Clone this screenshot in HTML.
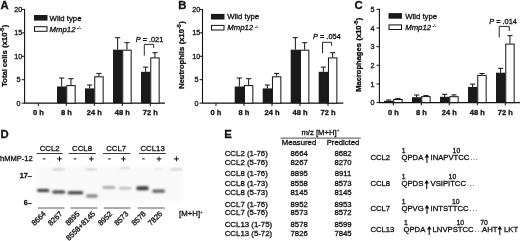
<!DOCTYPE html><html><head><meta charset="utf-8"><title>Figure</title><style>html,body{margin:0;padding:0;background:#fff}svg{display:block}text{font-family:"Liberation Sans", Arial, sans-serif;fill:#111}</style></head><body>
<svg width="520" height="241" viewBox="0 0 520 241">
<defs><filter id="b1" x="-20%" y="-100%" width="140%" height="300%"><feGaussianBlur stdDeviation="1.0 0.8"/></filter><filter id="b2" x="-10%" y="-10%" width="120%" height="120%"><feGaussianBlur stdDeviation="2"/></filter></defs>
<rect width="520" height="241" fill="#fff"/>
<path d="M24.6 8.90V103.15H165" fill="none" stroke="#111" stroke-width="1.1"/>
<path d="M21.70 103.15H24.6" stroke="#111" stroke-width="1"/>
<text x="20.60" y="105.75" text-anchor="end" font-size="7.2" stroke="#111" stroke-width="0.3">0</text>
<path d="M21.70 79.71H24.6" stroke="#111" stroke-width="1"/>
<text x="20.60" y="82.31" text-anchor="end" font-size="7.2" stroke="#111" stroke-width="0.3">5</text>
<path d="M21.70 56.28H24.6" stroke="#111" stroke-width="1"/>
<text x="22.30" y="58.88" text-anchor="end" font-size="7.2" stroke="#111" stroke-width="0.3">10</text>
<path d="M21.70 32.84H24.6" stroke="#111" stroke-width="1"/>
<text x="22.30" y="35.44" text-anchor="end" font-size="7.2" stroke="#111" stroke-width="0.3">15</text>
<path d="M21.70 9.40H24.6" stroke="#111" stroke-width="1"/>
<text x="22.30" y="12.00" text-anchor="end" font-size="7.2" stroke="#111" stroke-width="0.3">20</text>
<path d="M38.30 103.15v2.8" stroke="#111" stroke-width="1"/>
<text x="38.30" y="115.4" text-anchor="middle" font-size="7.5" font-weight="bold" stroke="#111" stroke-width="0.3">0 h</text>
<path d="M66.30 103.15v2.8" stroke="#111" stroke-width="1"/>
<text x="66.30" y="115.4" text-anchor="middle" font-size="7.5" font-weight="bold" stroke="#111" stroke-width="0.3">8 h</text>
<path d="M61.65 86.50V78.00M59.05 78.00h5.2" stroke="#111" stroke-width="1" fill="none"/>
<path d="M70.95 85.10V78.70M68.35 78.70h5.2" stroke="#111" stroke-width="1" fill="none"/>
<rect x="57.00" y="86.50" width="9.3" height="16.65" fill="#1a1a1a"/>
<rect x="66.75" y="85.60" width="8.4" height="17.55" fill="#fff" stroke="#111" stroke-width="1"/>
<path d="M94.30 103.15v2.8" stroke="#111" stroke-width="1"/>
<text x="94.30" y="115.4" text-anchor="middle" font-size="7.5" font-weight="bold" stroke="#111" stroke-width="0.3">24 h</text>
<path d="M89.65 88.40V85.00M87.05 85.00h5.2" stroke="#111" stroke-width="1" fill="none"/>
<path d="M98.95 76.30V73.40M96.35 73.40h5.2" stroke="#111" stroke-width="1" fill="none"/>
<rect x="85.00" y="88.40" width="9.3" height="14.75" fill="#1a1a1a"/>
<rect x="94.75" y="76.80" width="8.4" height="26.35" fill="#fff" stroke="#111" stroke-width="1"/>
<path d="M122.30 103.15v2.8" stroke="#111" stroke-width="1"/>
<text x="122.30" y="115.4" text-anchor="middle" font-size="7.5" font-weight="bold" stroke="#111" stroke-width="0.3">48 h</text>
<path d="M117.65 49.70V37.70M115.05 37.70h5.2" stroke="#111" stroke-width="1" fill="none"/>
<path d="M126.95 49.70V42.70M124.35 42.70h5.2" stroke="#111" stroke-width="1" fill="none"/>
<rect x="113.00" y="49.70" width="9.3" height="53.45" fill="#1a1a1a"/>
<rect x="122.75" y="50.20" width="8.4" height="52.95" fill="#fff" stroke="#111" stroke-width="1"/>
<path d="M150.30 103.15v2.8" stroke="#111" stroke-width="1"/>
<text x="150.30" y="115.4" text-anchor="middle" font-size="7.5" font-weight="bold" stroke="#111" stroke-width="0.3">72 h</text>
<path d="M145.65 71.80V67.10M143.05 67.10h5.2" stroke="#111" stroke-width="1" fill="none"/>
<path d="M154.95 57.40V52.70M152.35 52.70h5.2" stroke="#111" stroke-width="1" fill="none"/>
<rect x="141.00" y="71.80" width="9.3" height="31.35" fill="#1a1a1a"/>
<rect x="150.75" y="57.90" width="8.4" height="45.25" fill="#fff" stroke="#111" stroke-width="1"/>
<text transform="translate(7 86.7) rotate(-90)" font-size="7.55" font-weight="bold" stroke="#111" stroke-width="0.3">Total cells <tspan dy="-0.5" dx="0.5">(x10</tspan><tspan font-size="5.4" dy="-2.8" dx="0.2">-5</tspan><tspan dy="2.8" dx="0.3">)</tspan></text>
<text x="0.6" y="8.6" font-size="11.3" font-weight="bold" stroke="#111" stroke-width="0.3">A</text>
<rect x="34" y="15" width="13.5" height="5.6" fill="#1a1a1a"/>
<rect x="34.5" y="26.7" width="12.5" height="4.6" fill="#fff" stroke="#111" stroke-width="1"/>
<text x="49.6" y="20.5" font-size="7.75" stroke="#111" stroke-width="0.3">Wild type</text>
<text x="49.6" y="31.7" font-size="7.75" font-style="italic" stroke="#111" stroke-width="0.3">Mmp12<tspan font-size="4.2" dx="1.4" dy="-2.8" stroke-width="0.1">-/-</tspan></text>
<path d="M144.3 55.5V44.4H153.7V48" fill="none" stroke="#111" stroke-width="0.9"/>
<text x="135.7" y="41.6" font-size="7.35" stroke="#111" stroke-width="0.3"><tspan font-style="italic">P</tspan> = .021</text>
<path d="M202.5 8.90V103.15H343.3" fill="none" stroke="#111" stroke-width="1.1"/>
<path d="M199.60 103.15H202.5" stroke="#111" stroke-width="1"/>
<text x="198.50" y="105.75" text-anchor="end" font-size="7.2" stroke="#111" stroke-width="0.3">0</text>
<path d="M199.60 79.71H202.5" stroke="#111" stroke-width="1"/>
<text x="198.50" y="82.31" text-anchor="end" font-size="7.2" stroke="#111" stroke-width="0.3">5</text>
<path d="M199.60 56.28H202.5" stroke="#111" stroke-width="1"/>
<text x="200.20" y="58.88" text-anchor="end" font-size="7.2" stroke="#111" stroke-width="0.3">10</text>
<path d="M199.60 32.84H202.5" stroke="#111" stroke-width="1"/>
<text x="200.20" y="35.44" text-anchor="end" font-size="7.2" stroke="#111" stroke-width="0.3">15</text>
<path d="M199.60 9.40H202.5" stroke="#111" stroke-width="1"/>
<text x="200.20" y="12.00" text-anchor="end" font-size="7.2" stroke="#111" stroke-width="0.3">20</text>
<path d="M216.00 103.15v2.8" stroke="#111" stroke-width="1"/>
<text x="216.00" y="115.4" text-anchor="middle" font-size="7.5" font-weight="bold" stroke="#111" stroke-width="0.3">0 h</text>
<path d="M244.00 103.15v2.8" stroke="#111" stroke-width="1"/>
<text x="244.00" y="115.4" text-anchor="middle" font-size="7.5" font-weight="bold" stroke="#111" stroke-width="0.3">8 h</text>
<path d="M239.35 86.50V78.00M236.75 78.00h5.2" stroke="#111" stroke-width="1" fill="none"/>
<path d="M248.65 85.10V78.70M246.05 78.70h5.2" stroke="#111" stroke-width="1" fill="none"/>
<rect x="234.70" y="86.50" width="9.3" height="16.65" fill="#1a1a1a"/>
<rect x="244.45" y="85.60" width="8.4" height="17.55" fill="#fff" stroke="#111" stroke-width="1"/>
<path d="M272.00 103.15v2.8" stroke="#111" stroke-width="1"/>
<text x="272.00" y="115.4" text-anchor="middle" font-size="7.5" font-weight="bold" stroke="#111" stroke-width="0.3">24 h</text>
<path d="M267.35 88.40V85.00M264.75 85.00h5.2" stroke="#111" stroke-width="1" fill="none"/>
<path d="M276.65 76.30V73.40M274.05 73.40h5.2" stroke="#111" stroke-width="1" fill="none"/>
<rect x="262.70" y="88.40" width="9.3" height="14.75" fill="#1a1a1a"/>
<rect x="272.45" y="76.80" width="8.4" height="26.35" fill="#fff" stroke="#111" stroke-width="1"/>
<path d="M300.00 103.15v2.8" stroke="#111" stroke-width="1"/>
<text x="300.00" y="115.4" text-anchor="middle" font-size="7.5" font-weight="bold" stroke="#111" stroke-width="0.3">48 h</text>
<path d="M295.35 49.70V37.70M292.75 37.70h5.2" stroke="#111" stroke-width="1" fill="none"/>
<path d="M304.65 49.70V42.70M302.05 42.70h5.2" stroke="#111" stroke-width="1" fill="none"/>
<rect x="290.70" y="49.70" width="9.3" height="53.45" fill="#1a1a1a"/>
<rect x="300.45" y="50.20" width="8.4" height="52.95" fill="#fff" stroke="#111" stroke-width="1"/>
<path d="M328.00 103.15v2.8" stroke="#111" stroke-width="1"/>
<text x="328.00" y="115.4" text-anchor="middle" font-size="7.5" font-weight="bold" stroke="#111" stroke-width="0.3">72 h</text>
<path d="M323.35 71.80V67.10M320.75 67.10h5.2" stroke="#111" stroke-width="1" fill="none"/>
<path d="M332.65 57.40V52.70M330.05 52.70h5.2" stroke="#111" stroke-width="1" fill="none"/>
<rect x="318.70" y="71.80" width="9.3" height="31.35" fill="#1a1a1a"/>
<rect x="328.45" y="57.90" width="8.4" height="45.25" fill="#fff" stroke="#111" stroke-width="1"/>
<text transform="translate(184.4 88.8) rotate(-90)" font-size="7.55" font-weight="bold" stroke="#111" stroke-width="0.3">Neutrophils <tspan dy="-0.5" dx="0.5">(x10</tspan><tspan font-size="5.4" dy="-2.8" dx="0.2">-5</tspan><tspan dy="2.8" dx="0.3">)</tspan></text>
<text x="178.2" y="8.6" font-size="11.3" font-weight="bold" stroke="#111" stroke-width="0.3">B</text>
<rect x="211" y="13.9" width="13.5" height="5.6" fill="#1a1a1a"/>
<rect x="211.5" y="25.4" width="12.5" height="4.6" fill="#fff" stroke="#111" stroke-width="1"/>
<text x="227.3" y="19.4" font-size="7.75" stroke="#111" stroke-width="0.3">Wild type</text>
<text x="227.3" y="30.4" font-size="7.75" font-style="italic" stroke="#111" stroke-width="0.3">Mmp12<tspan font-size="4.2" dx="1.4" dy="-2.8" stroke-width="0.1">-/-</tspan></text>
<path d="M322.5 53.2V42.3H331.5V45.8" fill="none" stroke="#111" stroke-width="0.9"/>
<text x="313.1" y="39.3" font-size="7.35" stroke="#111" stroke-width="0.3"><tspan font-style="italic">P</tspan> = .054</text>
<path d="M379.4 8.85V102.6H520" fill="none" stroke="#111" stroke-width="1.1"/>
<path d="M376.50 102.60H379.4" stroke="#111" stroke-width="1"/>
<text x="374.40" y="105.20" text-anchor="end" font-size="7.2" stroke="#111" stroke-width="0.3">0</text>
<path d="M376.50 83.95H379.4" stroke="#111" stroke-width="1"/>
<text x="374.40" y="86.55" text-anchor="end" font-size="7.2" stroke="#111" stroke-width="0.3">1</text>
<path d="M376.50 65.30H379.4" stroke="#111" stroke-width="1"/>
<text x="374.40" y="67.90" text-anchor="end" font-size="7.2" stroke="#111" stroke-width="0.3">2</text>
<path d="M376.50 46.65H379.4" stroke="#111" stroke-width="1"/>
<text x="374.40" y="49.25" text-anchor="end" font-size="7.2" stroke="#111" stroke-width="0.3">3</text>
<path d="M376.50 28.00H379.4" stroke="#111" stroke-width="1"/>
<text x="374.40" y="30.60" text-anchor="end" font-size="7.2" stroke="#111" stroke-width="0.3">4</text>
<path d="M376.50 9.35H379.4" stroke="#111" stroke-width="1"/>
<text x="374.40" y="11.95" text-anchor="end" font-size="7.2" stroke="#111" stroke-width="0.3">5</text>
<path d="M393.30 102.6v2.8" stroke="#111" stroke-width="1"/>
<text x="393.30" y="115.4" text-anchor="middle" font-size="7.5" font-weight="bold" stroke="#111" stroke-width="0.3">0 h</text>
<path d="M388.65 100.80V100.00M386.05 100.00h5.2" stroke="#111" stroke-width="1" fill="none"/>
<path d="M397.95 99.00V98.40M395.35 98.40h5.2" stroke="#111" stroke-width="1" fill="none"/>
<rect x="384.00" y="100.80" width="9.3" height="1.80" fill="#1a1a1a"/>
<rect x="393.75" y="99.50" width="8.4" height="3.10" fill="#fff" stroke="#111" stroke-width="1"/>
<path d="M421.30 102.6v2.8" stroke="#111" stroke-width="1"/>
<text x="421.30" y="115.4" text-anchor="middle" font-size="7.5" font-weight="bold" stroke="#111" stroke-width="0.3">8 h</text>
<path d="M416.65 97.20V95.00M414.05 95.00h5.2" stroke="#111" stroke-width="1" fill="none"/>
<path d="M425.95 96.10V95.60M423.35 95.60h5.2" stroke="#111" stroke-width="1" fill="none"/>
<rect x="412.00" y="97.20" width="9.3" height="5.40" fill="#1a1a1a"/>
<rect x="421.75" y="96.60" width="8.4" height="6.00" fill="#fff" stroke="#111" stroke-width="1"/>
<path d="M449.30 102.6v2.8" stroke="#111" stroke-width="1"/>
<text x="449.30" y="115.4" text-anchor="middle" font-size="7.5" font-weight="bold" stroke="#111" stroke-width="0.3">24 h</text>
<path d="M444.65 96.80V94.30M442.05 94.30h5.2" stroke="#111" stroke-width="1" fill="none"/>
<path d="M453.95 96.20V94.90M451.35 94.90h5.2" stroke="#111" stroke-width="1" fill="none"/>
<rect x="440.00" y="96.80" width="9.3" height="5.80" fill="#1a1a1a"/>
<rect x="449.75" y="96.70" width="8.4" height="5.90" fill="#fff" stroke="#111" stroke-width="1"/>
<path d="M477.30 102.6v2.8" stroke="#111" stroke-width="1"/>
<text x="477.30" y="115.4" text-anchor="middle" font-size="7.5" font-weight="bold" stroke="#111" stroke-width="0.3">48 h</text>
<path d="M472.65 87.00V84.10M470.05 84.10h5.2" stroke="#111" stroke-width="1" fill="none"/>
<path d="M481.95 74.90V73.50M479.35 73.50h5.2" stroke="#111" stroke-width="1" fill="none"/>
<rect x="468.00" y="87.00" width="9.3" height="15.60" fill="#1a1a1a"/>
<rect x="477.75" y="75.40" width="8.4" height="27.20" fill="#fff" stroke="#111" stroke-width="1"/>
<path d="M505.30 102.6v2.8" stroke="#111" stroke-width="1"/>
<text x="505.30" y="115.4" text-anchor="middle" font-size="7.5" font-weight="bold" stroke="#111" stroke-width="0.3">72 h</text>
<path d="M500.65 72.70V68.30M498.05 68.30h5.2" stroke="#111" stroke-width="1" fill="none"/>
<path d="M509.95 43.60V35.70M507.35 35.70h5.2" stroke="#111" stroke-width="1" fill="none"/>
<rect x="496.00" y="72.70" width="9.3" height="29.90" fill="#1a1a1a"/>
<rect x="505.75" y="44.10" width="8.4" height="58.50" fill="#fff" stroke="#111" stroke-width="1"/>
<text transform="translate(361.2 91.8) rotate(-90)" font-size="7.55" font-weight="bold" stroke="#111" stroke-width="0.3">Macrophages <tspan dy="-0.5" dx="0.5">(x10</tspan><tspan font-size="5.4" dy="-2.8" dx="0.2">-5</tspan><tspan dy="2.8" dx="0.3">)</tspan></text>
<text x="354.6" y="8.6" font-size="11.3" font-weight="bold" stroke="#111" stroke-width="0.3">C</text>
<rect x="388.5" y="13.1" width="13.5" height="5.6" fill="#1a1a1a"/>
<rect x="389.0" y="24.9" width="12.5" height="4.6" fill="#fff" stroke="#111" stroke-width="1"/>
<text x="405.2" y="18.6" font-size="7.75" stroke="#111" stroke-width="0.3">Wild type</text>
<text x="405.2" y="29.9" font-size="7.75" font-style="italic" stroke="#111" stroke-width="0.3">Mmp12<tspan font-size="4.2" dx="1.4" dy="-2.8" stroke-width="0.1">-/-</tspan></text>
<path d="M499.2 37.5V26.4H509.3V31" fill="none" stroke="#111" stroke-width="0.9"/>
<text x="489.3" y="23.7" font-size="7.35" stroke="#111" stroke-width="0.3"><tspan font-style="italic">P</tspan> = .014</text>
<text x="0.6" y="138.2" font-size="11.3" font-weight="bold" stroke="#111" stroke-width="0.3">D</text>
<rect x="37" y="166" width="145" height="36" fill="#f9f9f9" filter="url(#b2)"/>
<text x="49.7" y="150.7" text-anchor="middle" font-size="7.8" stroke="#111" stroke-width="0.3">CCL2</text>
<path d="M36.6 153.5H62.8" stroke="#222" stroke-width="0.9"/>
<text x="82" y="150.7" text-anchor="middle" font-size="7.8" stroke="#111" stroke-width="0.3">CCL8</text>
<path d="M68.7 153.5H95.8" stroke="#222" stroke-width="0.9"/>
<text x="116.2" y="150.7" text-anchor="middle" font-size="7.8" stroke="#111" stroke-width="0.3">CCL7</text>
<path d="M103 153.5H130.3" stroke="#222" stroke-width="0.9"/>
<text x="152.6" y="150.7" text-anchor="middle" font-size="7.8" stroke="#111" stroke-width="0.3">CCL13</text>
<path d="M138.9 153.5H165.8" stroke="#222" stroke-width="0.9"/>
<text x="0" y="161" font-size="7.55" stroke="#111" stroke-width="0.3">hMMP-12</text>
<path d="M42.900000000000006 158.9h2.6" stroke="#111" stroke-width="1"/>
<path d="M57.1 158.9h4.8M59.5 156.5v4.8" stroke="#111" stroke-width="1" fill="none"/>
<path d="M73.7 158.9h2.6" stroke="#111" stroke-width="1"/>
<path d="M88.89999999999999 158.9h4.8M91.3 156.5v4.8" stroke="#111" stroke-width="1" fill="none"/>
<path d="M108.10000000000001 158.9h2.6" stroke="#111" stroke-width="1"/>
<path d="M121.1 158.9h4.8M123.5 156.5v4.8" stroke="#111" stroke-width="1" fill="none"/>
<path d="M142.1 158.9h2.6" stroke="#111" stroke-width="1"/>
<path d="M156.6 158.9h4.8M159 156.5v4.8" stroke="#111" stroke-width="1" fill="none"/>
<path d="M174.0 158.9h4.8M176.4 156.5v4.8" stroke="#111" stroke-width="1" fill="none"/>
<text x="31.8" y="177.9" text-anchor="end" font-size="7.2" font-weight="bold" stroke="#111" stroke-width="0.3">17–</text>
<text x="31.8" y="204.5" text-anchor="end" font-size="7.2" font-weight="bold" stroke="#111" stroke-width="0.3">6–</text>
<rect x="37" y="188.9" width="12.299999999999997" height="3.0" rx="1.5" fill="#383838" filter="url(#b1)"/>
<rect x="52.2" y="190.4" width="13.0" height="3.0" rx="1.5" fill="#3a3a3a" filter="url(#b1)"/>
<rect x="67.7" y="191.2" width="15.5" height="3.0" rx="1.5" fill="#343434" filter="url(#b1)"/>
<rect x="86" y="194.6" width="11.799999999999997" height="3.0" rx="1.5" fill="#7a7a7a" filter="url(#b1)"/>
<rect x="102.6" y="186.4" width="12.600000000000009" height="2.2" rx="1.1" fill="#888888" filter="url(#b1)"/>
<rect x="119" y="187.2" width="12.300000000000011" height="2.0" rx="1.0" fill="#acacac" filter="url(#b1)"/>
<rect x="136.2" y="186.3" width="12.600000000000023" height="4.0" rx="2.0" fill="#3a3a3a" filter="url(#b1)"/>
<rect x="152.2" y="189.5" width="12.800000000000011" height="3.2" rx="1.6" fill="#5c5c5c" filter="url(#b1)"/>
<rect x="52.5" y="168.7" width="12.0" height="1.4" fill="#bcbcbc" filter="url(#b1)"/>
<rect x="86" y="168.7" width="10.5" height="1.4" fill="#c0c0c0" filter="url(#b1)"/>
<rect x="120" y="167.4" width="9.5" height="1.4" fill="#c8c8c8" filter="url(#b1)"/>
<rect x="154.5" y="168.5" width="8.5" height="1.4" fill="#e4e4e4" filter="url(#b1)"/>
<rect x="170.5" y="168.7" width="11.5" height="1.4" fill="#bcbcbc" filter="url(#b1)"/>
<path d="M38 208H64.5" stroke="#333" stroke-width="0.8"/>
<path d="M70.5 208H97.5" stroke="#333" stroke-width="0.8"/>
<path d="M103.7 208H130.5" stroke="#333" stroke-width="0.8"/>
<path d="M137.5 208H164.5" stroke="#333" stroke-width="0.8"/>
<text transform="translate(46.3 214.3) rotate(-45)" text-anchor="end" font-size="7.5" stroke="#111" stroke-width="0.3">8664</text>
<text transform="translate(62.9 214.3) rotate(-45)" text-anchor="end" font-size="7.5" stroke="#111" stroke-width="0.3">8267</text>
<text transform="translate(80.2 214.3) rotate(-45)" text-anchor="end" font-size="7.5" stroke="#111" stroke-width="0.3">8895</text>
<text transform="translate(95.8 214.3) rotate(-45)" text-anchor="end" font-size="7.5" stroke="#111" stroke-width="0.3">8558+8145</text>
<text transform="translate(112.8 214.3) rotate(-45)" text-anchor="end" font-size="7.5" stroke="#111" stroke-width="0.3">8952</text>
<text transform="translate(129 214.3) rotate(-45)" text-anchor="end" font-size="7.5" stroke="#111" stroke-width="0.3">8573</text>
<text transform="translate(146.3 214.3) rotate(-45)" text-anchor="end" font-size="7.5" stroke="#111" stroke-width="0.3">8578</text>
<text transform="translate(162.8 214.3) rotate(-45)" text-anchor="end" font-size="7.5" stroke="#111" stroke-width="0.3">7826</text>
<text x="179.1" y="216.3" font-size="7.8" stroke="#111" stroke-width="0.3">[M+H]<tspan font-size="4.5" dy="-2.8" stroke-width="0.1">+</tspan></text>
<text x="224.2" y="137.9" font-size="11.3" font-weight="bold" stroke="#111" stroke-width="0.3">E</text>
<text x="301.4" y="134.8" font-size="7.7" stroke="#111" stroke-width="0.3">m/z [M+H]<tspan font-size="4.5" dy="-2.8" stroke-width="0.1">+</tspan></text>
<path d="M280.5 138.1H360.9" stroke="#222" stroke-width="0.8"/>
<text x="299" y="145.1" text-anchor="middle" font-size="7.75" stroke="#111" stroke-width="0.3">Measured</text>
<text x="343" y="145.1" text-anchor="middle" font-size="7.75" stroke="#111" stroke-width="0.3">Predicted</text>
<text x="224.7" y="156.0" font-size="7.85" stroke="#111" stroke-width="0.3">CCL2 (1-76)</text>
<text x="299.2" y="156.0" text-anchor="middle" font-size="7.75" stroke="#111" stroke-width="0.3">8664</text>
<text x="343" y="156.0" text-anchor="middle" font-size="7.75" stroke="#111" stroke-width="0.3">8682</text>
<text x="224.7" y="164.5" font-size="7.85" stroke="#111" stroke-width="0.3">CCL2 (5-76)</text>
<text x="299.2" y="164.5" text-anchor="middle" font-size="7.75" stroke="#111" stroke-width="0.3">8267</text>
<text x="343" y="164.5" text-anchor="middle" font-size="7.75" stroke="#111" stroke-width="0.3">8270</text>
<text x="224.7" y="176.3" font-size="7.85" stroke="#111" stroke-width="0.3">CCL8 (1-76)</text>
<text x="299.2" y="176.3" text-anchor="middle" font-size="7.75" stroke="#111" stroke-width="0.3">8895</text>
<text x="343" y="176.3" text-anchor="middle" font-size="7.75" stroke="#111" stroke-width="0.3">8911</text>
<text x="224.7" y="185.5" font-size="7.85" stroke="#111" stroke-width="0.3">CCL8 (1-73)</text>
<text x="299.2" y="185.5" text-anchor="middle" font-size="7.75" stroke="#111" stroke-width="0.3">8558</text>
<text x="343" y="185.5" text-anchor="middle" font-size="7.75" stroke="#111" stroke-width="0.3">8573</text>
<text x="224.7" y="194.9" font-size="7.85" stroke="#111" stroke-width="0.3">CCL8 (5-73)</text>
<text x="299.2" y="194.9" text-anchor="middle" font-size="7.75" stroke="#111" stroke-width="0.3">8145</text>
<text x="343" y="194.9" text-anchor="middle" font-size="7.75" stroke="#111" stroke-width="0.3">8145</text>
<text x="224.7" y="206.5" font-size="7.85" stroke="#111" stroke-width="0.3">CCL7 (1-76)</text>
<text x="299.2" y="206.5" text-anchor="middle" font-size="7.75" stroke="#111" stroke-width="0.3">8952</text>
<text x="343" y="206.5" text-anchor="middle" font-size="7.75" stroke="#111" stroke-width="0.3">8953</text>
<text x="224.7" y="215" font-size="7.85" stroke="#111" stroke-width="0.3">CCL7 (5-76)</text>
<text x="299.2" y="215" text-anchor="middle" font-size="7.75" stroke="#111" stroke-width="0.3">8573</text>
<text x="343" y="215" text-anchor="middle" font-size="7.75" stroke="#111" stroke-width="0.3">8572</text>
<text x="224.7" y="226.8" font-size="7.85" stroke="#111" stroke-width="0.3">CCL13 (1-75)</text>
<text x="299.2" y="226.8" text-anchor="middle" font-size="7.75" stroke="#111" stroke-width="0.3">8578</text>
<text x="343" y="226.8" text-anchor="middle" font-size="7.75" stroke="#111" stroke-width="0.3">8599</text>
<text x="224.7" y="236.1" font-size="7.85" stroke="#111" stroke-width="0.3">CCL13 (5-72)</text>
<text x="299.2" y="236.1" text-anchor="middle" font-size="7.75" stroke="#111" stroke-width="0.3">7826</text>
<text x="343" y="236.1" text-anchor="middle" font-size="7.75" stroke="#111" stroke-width="0.3">7845</text>
<text x="370.4" y="159.7" font-size="7.7" stroke="#111" stroke-width="0.3">CCL2</text>
<text x="401.5" y="159.7" font-size="7.7" stroke="#111" stroke-width="0.3">QPDA</text>
<path d="M426.9 162.89999999999998V156.2" stroke="#111" stroke-width="1.1"/><path d="M424.59999999999997 157.39999999999998L426.9 153.7L429.2 157.39999999999998Z" fill="#111"/>
<text x="430.5" y="159.7" font-size="7.7" stroke="#111" stroke-width="0.3" id="s_CCL2">INAPVTCC</text>
<text x="470.3" y="159.7" font-size="7.7" letter-spacing="0.6" fill="#444">...</text>
<text x="401.8" y="152.5" text-anchor="start" font-size="6.8" stroke="#111" stroke-width="0.3">1</text>
<text x="456.4" y="152.5" text-anchor="middle" font-size="6.8" stroke="#111" stroke-width="0.3">10</text>
<text x="370.4" y="185.8" font-size="7.7" stroke="#111" stroke-width="0.3">CCL8</text>
<text x="401.5" y="185.8" font-size="7.7" stroke="#111" stroke-width="0.3">QPDS</text>
<path d="M426.7 189.0V182.3" stroke="#111" stroke-width="1.1"/><path d="M424.4 183.5L426.7 179.8L429.0 183.5Z" fill="#111"/>
<text x="430.5" y="185.8" font-size="7.7" stroke="#111" stroke-width="0.3" id="s_CCL8">VSIPITCC</text>
<text x="466.9" y="185.8" font-size="7.7" letter-spacing="0.6" fill="#444">...</text>
<text x="401.8" y="178.60000000000002" text-anchor="start" font-size="6.8" stroke="#111" stroke-width="0.3">1</text>
<text x="452.4" y="178.60000000000002" text-anchor="middle" font-size="6.8" stroke="#111" stroke-width="0.3">10</text>
<text x="370.4" y="210.7" font-size="7.7" stroke="#111" stroke-width="0.3">CCL7</text>
<text x="401.5" y="210.7" font-size="7.7" stroke="#111" stroke-width="0.3">QPVG</text>
<path d="M427 213.89999999999998V207.2" stroke="#111" stroke-width="1.1"/><path d="M424.7 208.39999999999998L427 204.7L429.3 208.39999999999998Z" fill="#111"/>
<text x="430.6" y="210.7" font-size="7.7" stroke="#111" stroke-width="0.3" id="s_CCL7">INTSTTCC</text>
<text x="469.6" y="210.7" font-size="7.7" letter-spacing="0.6" fill="#444">...</text>
<text x="401.8" y="203.5" text-anchor="start" font-size="6.8" stroke="#111" stroke-width="0.3">1</text>
<text x="455.8" y="203.5" text-anchor="middle" font-size="6.8" stroke="#111" stroke-width="0.3">10</text>
<text x="370.4" y="231.7" font-size="7.7" stroke="#111" stroke-width="0.3">CCL13</text>
<text x="403.5" y="231.7" font-size="7.7" stroke="#111" stroke-width="0.3">QPDA</text>
<path d="M429.2 234.89999999999998V228.2" stroke="#111" stroke-width="1.1"/><path d="M426.9 229.39999999999998L429.2 225.7L431.5 229.39999999999998Z" fill="#111"/>
<text x="432.6" y="231.7" font-size="7.7" stroke="#111" stroke-width="0.3">LNVPSTCC</text>
<text x="474.6" y="231.7" font-size="7.7" letter-spacing="0.6" fill="#444">...</text>
<text x="482" y="231.7" font-size="7.7" stroke="#111" stroke-width="0.3">AHT</text>
<path d="M499.8 234.89999999999998V228.2" stroke="#111" stroke-width="1.1"/><path d="M497.5 229.39999999999998L499.8 225.7L502.1 229.39999999999998Z" fill="#111"/>
<text x="504" y="231.7" font-size="7.7" stroke="#111" stroke-width="0.3">LKT</text>
<text x="404.0" y="224.5" text-anchor="start" font-size="6.8" stroke="#111" stroke-width="0.3">1</text>
<text x="460.2" y="224.5" text-anchor="middle" font-size="6.8" stroke="#111" stroke-width="0.3">10</text>
<text x="484" y="224.5" text-anchor="middle" font-size="6.8" stroke="#111" stroke-width="0.3">70</text>
</svg></body></html>
